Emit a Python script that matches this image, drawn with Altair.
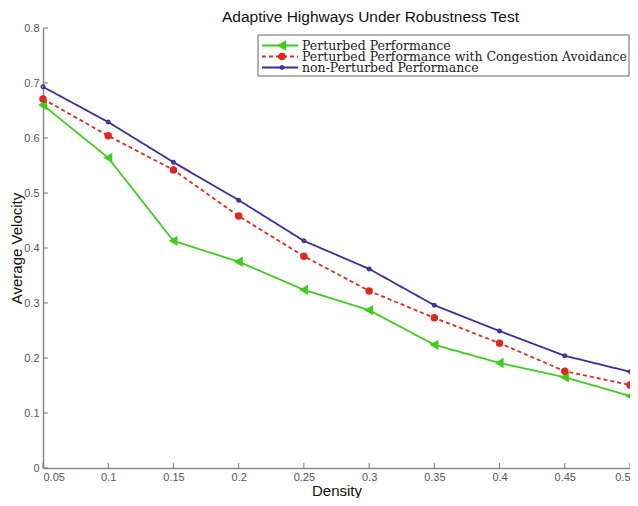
import altair as alt
import pandas as pd

density = [0.05, 0.1, 0.15, 0.2, 0.25, 0.3, 0.35, 0.4, 0.45, 0.5]
perturbed = [0.660, 0.564, 0.413, 0.375, 0.324, 0.287, 0.224, 0.191, 0.165, 0.131]
congestion = [0.671, 0.604, 0.542, 0.458, 0.385, 0.322, 0.273, 0.227, 0.176, 0.151]
non_perturbed = [0.693, 0.629, 0.556, 0.487, 0.413, 0.362, 0.296, 0.249, 0.204, 0.175]

series_names = [
    "Perturbed Performance",
    "Perturbed Performance  with Congestion Avoidance",
    "non-Perturbed Performance",
]
x_ticks = [0.05, 0.1, 0.15, 0.2, 0.25, 0.3, 0.35, 0.4, 0.45, 0.5]
y_ticks = [0, 0.1, 0.2, 0.3, 0.4, 0.5, 0.6, 0.7, 0.8]

colors = ["#3fcc1c", "#e0281e", "#3b2d9b"]
dashes = [[1, 0], [4, 3], [1, 0]]
shapes = ["triangle-left", "circle", "circle"]
fills = ["#3fcc1c", "#e0281e", "transparent"]
sizes = [60, 12, 60]

rows = []
for name, vals in zip(series_names, [perturbed, congestion, non_perturbed]):
    for d, v in zip(density, vals):
        rows.append({"density": d, "velocity": v, "series": name})
df = pd.DataFrame(rows)
leg_df = pd.DataFrame({"series": series_names, "rank": [0, 1, 2]})

W, H = 587, 440

color = alt.Color("series:N", scale=alt.Scale(domain=series_names, range=colors), legend=None)
dash = alt.StrokeDash("series:N", scale=alt.Scale(domain=series_names, range=dashes), legend=None)
shape = alt.Shape("series:N", scale=alt.Scale(domain=series_names, range=shapes), legend=None)
fill = alt.Fill("series:N", scale=alt.Scale(domain=series_names, range=fills), legend=None)
size = alt.Size("series:N", scale=alt.Scale(domain=series_names, range=sizes), legend=None)

xs = alt.Scale(domain=[0.05, 0.5], nice=False, zero=False)
ys = alt.Scale(domain=[0, 0.8], nice=False)

x_axis = alt.Axis(values=x_ticks, format="~g", ticks=False, grid=False,
                  domainColor="#8a8a8a", domainWidth=1.5, labelColor="#555",
                  labelFont="Liberation Sans", labelFontSize=11, labelPadding=3,
                  title="Density", titleFont="Liberation Sans", titleFontSize=15,
                  titleFontWeight="normal", titleColor="#111", titlePadding=1)
y_axis = alt.Axis(values=y_ticks, format="~g", ticks=False, grid=False,
                  domainColor="#8a8a8a", domainWidth=1.5, labelColor="#555",
                  labelFont="Liberation Sans", labelFontSize=11, labelPadding=4,
                  title="Average Velocity", titleFont="Liberation Sans", titleFontSize=15,
                  titleFontWeight="normal", titleColor="#111",
                  titleX=-19, titleY=H / 2)

base = alt.Chart(df)
lines = base.mark_line(strokeWidth=1.8).encode(
    x=alt.X("density:Q", scale=xs, axis=x_axis),
    y=alt.Y("velocity:Q", scale=ys, axis=y_axis),
    color=color, strokeDash=dash, detail="series:N",
)
points = base.mark_point(filled=False, strokeWidth=1.5, opacity=1).encode(
    x="density:Q", y="velocity:Q",
    color=color, shape=shape, fill=fill, size=size,
)

xt = alt.Chart(pd.DataFrame({"t": x_ticks})).mark_rule(color="#777", strokeWidth=1).encode(
    x="t:Q", y=alt.value(H), y2=alt.value(H - 5))
yt = alt.Chart(pd.DataFrame({"t": y_ticks})).mark_rule(color="#777", strokeWidth=1).encode(
    y="t:Q", x=alt.value(0), x2=alt.value(5))

data_layer = alt.layer(lines, points, xt, yt)

leg_y = alt.Y("rank:Q", scale=alt.Scale(domain=[0, 2], range=[17.5, 39.5]), axis=None)
box = alt.Chart(pd.DataFrame({"a": [0]})).mark_rect(
    fill="white", stroke="#666", strokeWidth=1).encode(
    x=alt.value(215), x2=alt.value(586), y=alt.value(7), y2=alt.value(48))
leg_lines = alt.Chart(leg_df).mark_rule(strokeWidth=1.8).encode(
    x=alt.value(219), x2=alt.value(255), y=leg_y, color=color, strokeDash=dash)
leg_pts = alt.Chart(leg_df).mark_point(filled=False, strokeWidth=1.5, opacity=1).encode(
    x=alt.value(239), y=leg_y, color=color, shape=shape, fill=fill, size=size)
leg_txt = alt.Chart(leg_df).mark_text(
    align="left", baseline="middle", font="DejaVu Serif", fontSize=12.5, color="#222").encode(
    x=alt.value(259), y=leg_y, text="series:N")

legend_layer = alt.layer(box, leg_lines, leg_pts, leg_txt)

chart = alt.layer(data_layer, legend_layer).resolve_scale(y="independent").properties(
    width=W, height=H,
    title=alt.TitleParams("Adaptive Highways Under Robustness Test", font="Liberation Sans",
                          fontSize=15.5, fontWeight="normal", color="#111", offset=4, dx=34,
                          dy=7, frame="group"),
    autosize=alt.AutoSizeParams(type="none"),
    padding={"left": 35, "top": 20, "right": 0, "bottom": 30},
).configure_view(stroke=None)

chart.save("out.html", embed_options={"renderer": "svg", "actions": False})
